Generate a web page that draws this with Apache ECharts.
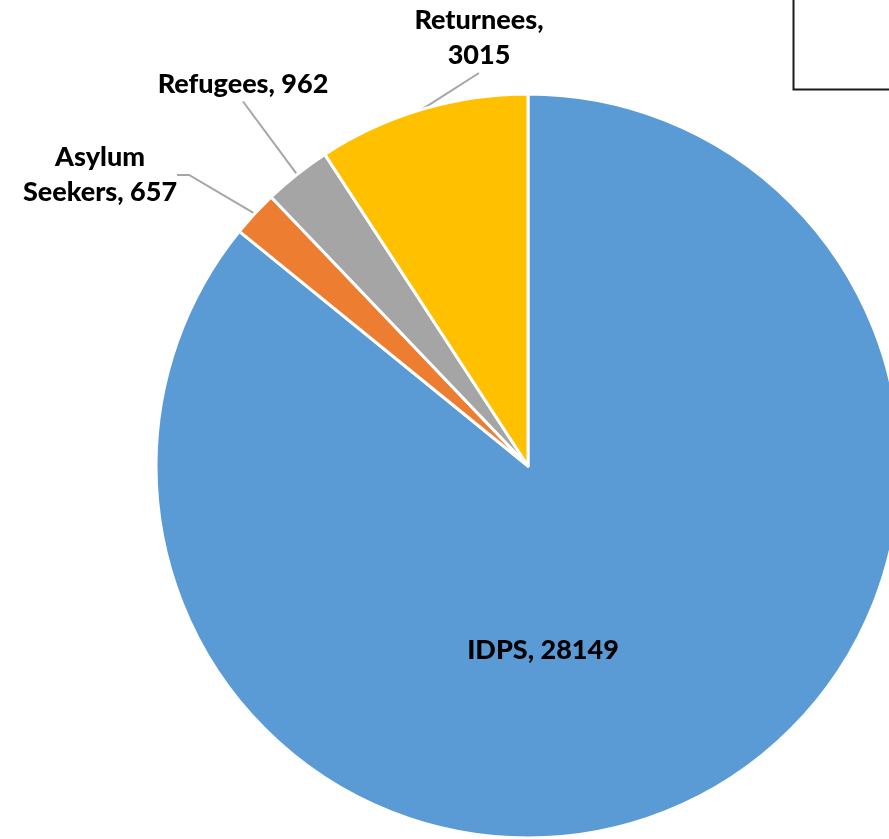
<!DOCTYPE html>
<html>
<head>
<meta charset="utf-8">
<script src="https://cdn.jsdelivr.net/npm/echarts@6/dist/echarts.min.js"></script>
<style>
html,body{margin:0;padding:0;background:#fff;}
#chart{width:889px;height:839px;}
</style>
</head>
<body>
<div id="chart"></div>
<script>
const categories = ['IDPS', 'Asylum\nSeekers', 'Refugees', 'Returnees'];
const values = [28149, 657, 962, 3015];
const colors = ['#5B9BD5', '#ED7D31', '#A5A5A5', '#FFC000'];

// label placement (centres) per slice
const labelPos = [[543, 650], [100, 175], [243, 84], [479, 38]];
const lineLen2 = [0, 12, 0, 0];

const chart = echarts.init(document.getElementById('chart'), null, {renderer: 'canvas'});

const data = categories.map((c, i) => ({
  name: c,
  value: values[i],
  itemStyle: {color: colors[i]},
  label: {position: i === 0 ? 'inside' : 'outside'},
  labelLine: {show: i !== 0, length: 10, length2: lineLen2[i]}
}));

chart.setOption({
  animation: false,
  backgroundColor: '#ffffff',
  graphic: [{
    type: 'rect',
    left: 791, top: -10,
    shape: {width: 200, height: 97},
    style: {fill: 'none', stroke: '#1a1a1a', lineWidth: 2}
  }],
  series: [{
    type: 'pie',
    center: [528, 466],
    radius: 372,
    startAngle: 90,
    clockwise: true,
    avoidLabelOverlap: false,
    data: data,
    itemStyle: {borderColor: '#ffffff', borderWidth: 3},
    label: {
      show: true,
      fontFamily: 'Lato',
      fontWeight: 900,
      fontSize: 27,
      lineHeight: 35,
      color: '#000000',
      formatter: function (p) {
        return p.name === 'Returnees' ? p.name + ',\n' + p.value : p.name + ', ' + p.value;
      }
    },
    labelLine: {lineStyle: {color: '#A6A6A6', width: 2}},
    labelLayout: function (params) {
      const pos = labelPos[params.dataIndex];
      return {x: pos[0], y: pos[1], align: 'center', verticalAlign: 'middle'};
    },
    emphasis: {disabled: true}
  }]
});
</script>
</body>
</html>
